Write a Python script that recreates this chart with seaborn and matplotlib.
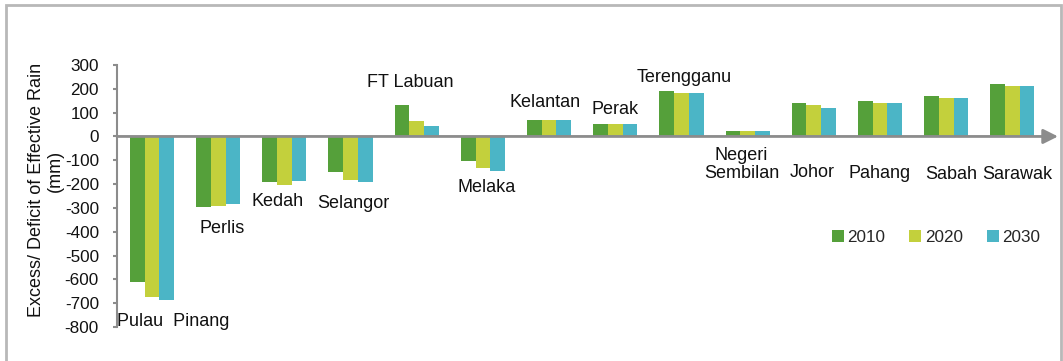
import matplotlib
matplotlib.use("Agg")
import matplotlib.pyplot as plt
from matplotlib.patches import Rectangle
import pandas as pd
import seaborn as sns

states = ["Pulau Pinang", "Perlis", "Kedah", "Selangor", "FT Labuan", "Melaka",
          "Kelantan", "Perak", "Terengganu", "Negeri Sembilan", "Johor",
          "Pahang", "Sabah", "Sarawak"]
years = ["2010", "2020", "2030"]
rain_2010 = [-613, -298, -193, -151, 130, -105, 71, 52, 189, 24, 141, 150, 169, 220]
rain_2020 = [-676, -290, -202, -181, 63, -134, 71, 52, 181, 24, 130, 141, 160, 210]
rain_2030 = [-685, -282, -185, -193, 42, -143, 71, 52, 181, 24, 120, 141, 160, 210]

state_labels = ["Pulau  Pinang", "Perlis", "Kedah", "Selangor", "FT Labuan", "Melaka",
                "Kelantan", "Perak", "Terengganu", "Negeri\nSembilan", "Johor",
                "Pahang", "Sabah", "Sarawak"]
# label anchor (x offset from category, y in data units)
label_pos = [(0.32, -777), (1.06, -387), (1.9, -273), (3.04, -282), (3.9, 227),
             (5.06, -214), (5.94, 143), (7.0, 113), (8.04, 248), (8.91, -118),
             (9.97, -151), (11.0, -155), (12.08, -160), (13.08, -160)]

colors = ["#55a03a", "#c3d03c", "#4bb5c6"]
axis_gray = "#8c8c8c"

df = pd.DataFrame({
    "State": states * 3,
    "Year": [y for y in years for _ in states],
    "Value": rain_2010 + rain_2020 + rain_2030,
})

sns.set_theme(style="white")
plt.rcParams["font.family"] = ["Liberation Sans", "DejaVu Sans"]
plt.rcParams["font.size"] = 12

fig = plt.figure(figsize=(10.63, 3.61), dpi=100)
ax = fig.add_axes([117 / 1063, 34 / 361, 941 / 1063, 262 / 361])

sns.barplot(data=df, x="State", y="Value", hue="Year", order=states,
            hue_order=years, palette=colors, width=0.667, saturation=1,
            edgecolor="none", linewidth=0, ax=ax)

ax.set_xlim(-0.529, 13.69)
ax.set_ylim(-800, 300)
ax.set_yticks(range(-800, 301, 100))
ax.set_yticklabels([str(v) for v in range(-800, 301, 100)], fontsize=12.3, color="#111111")
ax.set_xticks([])
ax.set_xlabel("")
ax.set_ylabel("")

for side in ["top", "right", "bottom"]:
    ax.spines[side].set_visible(False)
ax.spines["left"].set_color(axis_gray)
ax.spines["left"].set_linewidth(1.5)
ax.tick_params(axis="y", direction="out", length=3, width=1.5, color=axis_gray,
               pad=10, left=True)

# horizontal zero axis with arrow head
ax.annotate("", xy=(1.0, 0), xycoords=("axes fraction", "data"),
            xytext=(0.0, 0), textcoords=("axes fraction", "data"),
            arrowprops=dict(arrowstyle="-|>", color=axis_gray, lw=2,
                            mutation_scale=22, shrinkA=0, shrinkB=0))

for text, (x, y) in zip(state_labels, label_pos):
    ax.text(x, y, text, ha="center", va="center", fontsize=13, color="#111111",
            linespacing=1.05)

leg = ax.legend(loc="center", bbox_to_anchor=(936 / 1063, 1 - 237 / 361),
                bbox_transform=fig.transFigure, ncol=3, frameon=False,
                fontsize=12.3, handlelength=0.7, handleheight=0.7,
                handletextpad=0.2, columnspacing=1.4)

fig.text(37 / 1063, 1 - 190 / 361, "Excess/ Deficit of Effective Rain",
         rotation=90, ha="center", va="center", fontsize=13, color="#111111")
fig.text(55 / 1063, 1 - 171 / 361, "(mm)", rotation=90, ha="center",
         va="center", fontsize=13, color="#111111")

# outer frame
fig.patches.append(Rectangle((6 / 1063, -0.1), 1055 / 1063, 1.1 - 5 / 361,
                             transform=fig.transFigure, fill=False,
                             edgecolor="#b8b8b8", linewidth=2))

fig.savefig("out.png", dpi=100, facecolor="white")
